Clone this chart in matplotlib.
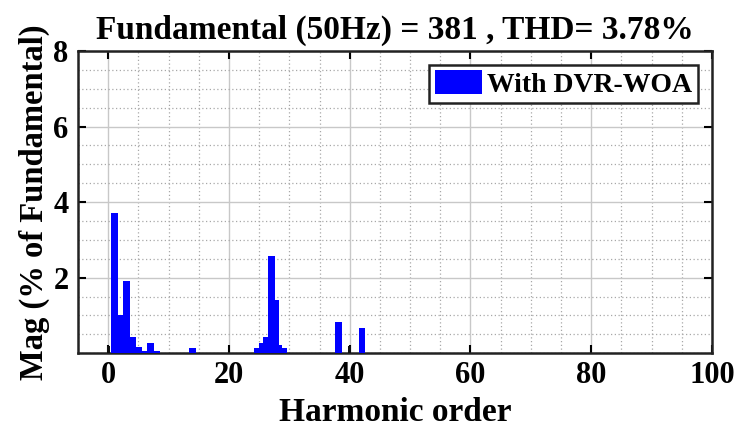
import numpy as np
import matplotlib
matplotlib.use('Agg')
from matplotlib import pyplot as plt
from matplotlib.ticker import MultipleLocator

# harmonic spectrum (order, % of fundamental)
orders = [1, 2, 3, 4, 5, 6, 7, 8, 14,
          24.75, 25.5, 26.15, 27, 27.65, 28.3, 29.05,
          38.15, 42.05]
mags = [3.72, 1.01, 1.92, 0.43, 0.17, 0.05, 0.28, 0.05, 0.13,
        0.13, 0.27, 0.42, 2.56, 1.40, 0.21, 0.13,
        0.83, 0.66]

# small dark bars (DC and order 40)
dark_orders = [0, 40]
dark_mags = [0.18, 0.20]

title = 'Fundamental (50Hz) = 381 , THD= 3.78%'
legend_label = 'With DVR-WOA'

plt.rcParams['font.family'] = ['Liberation Serif', 'DejaVu Serif']
plt.rcParams['font.weight'] = 'bold'

fig = plt.figure(figsize=(7.37, 4.36), dpi=100)
ax = fig.add_axes([0.106, 0.19, 0.86, 0.693])

# draw short bars first so tall ones stay fully visible
idx = np.argsort(mags)
first = True
for i in idx:
    ax.bar(orders[i], mags[i], width=1.1, color='#0000ff', edgecolor='none',
           zorder=3, label=legend_label if first else None)
    first = False
ax.bar(dark_orders, dark_mags, width=0.5, color='#101010', zorder=3)

ax.set_xlim(-5, 100)
ax.set_ylim(0, 8)
ax.set_xticks(range(0, 101, 20))
ax.set_yticks([2, 4, 6, 8])
ax.xaxis.set_minor_locator(MultipleLocator(5))
ax.yaxis.set_minor_locator(MultipleLocator(0.5))

ax.grid(True, which='major', color='#c8c8c8', linewidth=1.0, zorder=0)
ax.grid(True, which='minor', color='#a8a8a8', linestyle=(0, (1, 2)), linewidth=0.9, zorder=0)
ax.set_axisbelow(True)

ax.tick_params(which='both', direction='in', top=True, right=True, labelsize=22)
ax.tick_params(axis='x', pad=6)
ax.tick_params(axis='y', pad=7)
ax.tick_params(which='major', length=6, width=1.5)
ax.tick_params(which='minor', length=0)
for s in ax.spines.values():
    s.set_linewidth(1.8)
    s.set_color('#222222')

for lab in ax.get_xticklabels() + ax.get_yticklabels():
    lab.set_fontweight('bold')

ax.set_title(title, fontsize=24, fontweight='bold', pad=9)
ax.set_xlabel('Harmonic order', fontsize=24, fontweight='bold', labelpad=5)
ax.set_ylabel('Mag (% of Fundamental)', fontsize=23.5, fontweight='bold', labelpad=2)

leg = ax.legend(loc='upper right', fancybox=False, framealpha=1,
                edgecolor='#222222', handlelength=1.7, handleheight=0.9,
                borderpad=0.2, handletextpad=0.2, borderaxespad=0.5,
                prop={'weight': 'bold', 'size': 20})
leg.get_frame().set_linewidth(1.8)

fig.savefig('out.png', dpi=100)
